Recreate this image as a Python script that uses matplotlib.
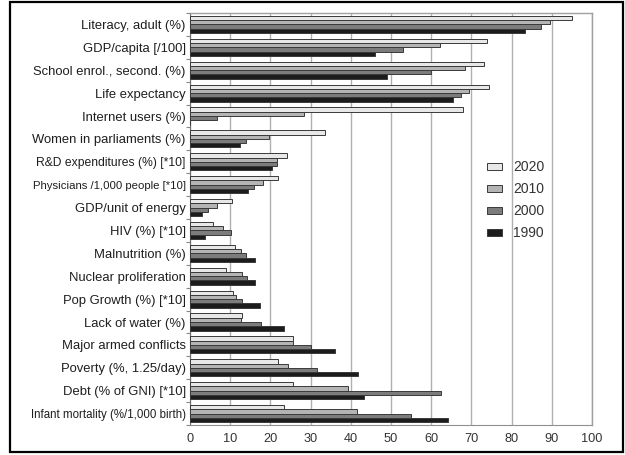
import matplotlib
matplotlib.use("Agg")
import matplotlib.pyplot as plt
import numpy as np
from matplotlib.patches import Rectangle

plt.rcParams['font.family'] = ['Liberation Sans', 'DejaVu Sans']

categories = [
    "Literacy, adult (%)",
    "GDP/capita [/100]",
    "School enrol., second. (%)",
    "Life expectancy",
    "Internet users (%)",
    "Women in parliaments (%)",
    "R&D expenditures (%) [*10]",
    "Physicians /1,000 people [*10]",
    "GDP/unit of energy",
    "HIV (%) [*10]",
    "Malnutrition (%)",
    "Nuclear proliferation",
    "Pop Growth (%) [*10]",
    "Lack of water (%)",
    "Major armed conflicts",
    "Poverty (%, 1.25/day)",
    "Debt (% of GNI) [*10]",
    "Infant mortality (%/1,000 birth)",
]

years = ["2020", "2010", "2000", "1990"]

v2020 = [95.0, 73.9, 73.2, 74.5, 67.9, 33.6, 24.1, 21.8, 10.4, 5.6, 11.2, 8.9, 10.8, 13.0, 25.5, 22.0, 25.7, 23.5]
v2010 = [89.6, 62.2, 68.5, 69.5, 28.3, 19.7, 21.7, 18.1, 6.8, 8.3, 12.6, 13.0, 11.4, 12.6, 25.5, 24.5, 39.3, 41.5]
v2000 = [87.3, 52.9, 59.9, 67.5, 6.6, 13.9, 21.6, 15.9, 4.4, 10.2, 13.9, 14.2, 13.0, 17.7, 30.0, 31.5, 62.4, 54.9]
v1990 = [83.4, 46.1, 49.0, 65.3, 0.0, 12.5, 20.5, 14.5, 3.0, 3.7, 16.2, 16.2, 17.4, 23.4, 36.1, 41.7, 43.2, 64.1]

series = [v2020, v2010, v2000, v1990]
colors = ["#e8e8e8", "#b4b4b4", "#7c7c7c", "#1c1c1c"]

# label sizes (the long labels are set tighter in the original)
label_sizes = {"R&D expenditures (%) [*10]": 8.75,
               "Physicians /1,000 people [*10]": 8.2,
               "Infant mortality (%/1,000 birth)": 8.3}

fig = plt.figure(figsize=(6.25, 4.55), dpi=100)
ax = fig.add_axes([190/625, 1-425/455, (592-190)/625, (425-13)/455])

n = len(categories)
y = np.arange(n)
bh = 0.186
for k, (vals, col, lab) in enumerate(zip(series, colors, years)):
    offs = (k - 1.5) * bh
    ax.barh(y + offs, vals, height=bh, color=col, edgecolor="#3a3a3a",
            linewidth=0.7, label=lab, zorder=3)

ax.set_xlim(0, 100)
ax.set_ylim(n - 0.5, -0.5)
ax.set_xticks(np.arange(0, 101, 10))
ax.set_xticklabels([str(v) for v in range(0, 101, 10)], fontsize=9.2, color="#333333")
ax.tick_params(axis='x', length=0, pad=6)
ax.set_yticks(y)
ax.set_yticklabels(categories, fontsize=9.4, color="#1e1e1e")
for t in ax.get_yticklabels():
    if t.get_text() in label_sizes:
        t.set_fontsize(label_sizes[t.get_text()])
ax.tick_params(axis='y', which='major', length=0, pad=3)
ax.set_yticks(np.arange(-0.5, n, 1), minor=True)
ax.tick_params(axis='y', which='minor', length=3, color="#888888", width=0.8)

ax.grid(axis='x', color="#b0b0b0", linewidth=1.0, zorder=0)
for s in ["top", "right"]:
    ax.spines[s].set_color("#a0a0a0")
    ax.spines[s].set_linewidth(1.0)
ax.spines["left"].set_color("#707070")
ax.spines["bottom"].set_color("#909090")

leg = ax.legend(loc="upper left", bbox_to_anchor=(474/625, 1-147.5/455),
                bbox_transform=fig.transFigure, frameon=False, fontsize=10,
                handlelength=1.1, handleheight=0.4, labelspacing=0.58,
                handletextpad=0.8)
for t in leg.get_texts():
    t.set_color("#333333")

fig.patches.append(Rectangle((10/625, 1-452/455), (623-10)/625, (452-2)/455,
                             transform=fig.transFigure, fill=False,
                             edgecolor="black", linewidth=1.6, zorder=10))

fig.savefig("out.png", dpi=100)
